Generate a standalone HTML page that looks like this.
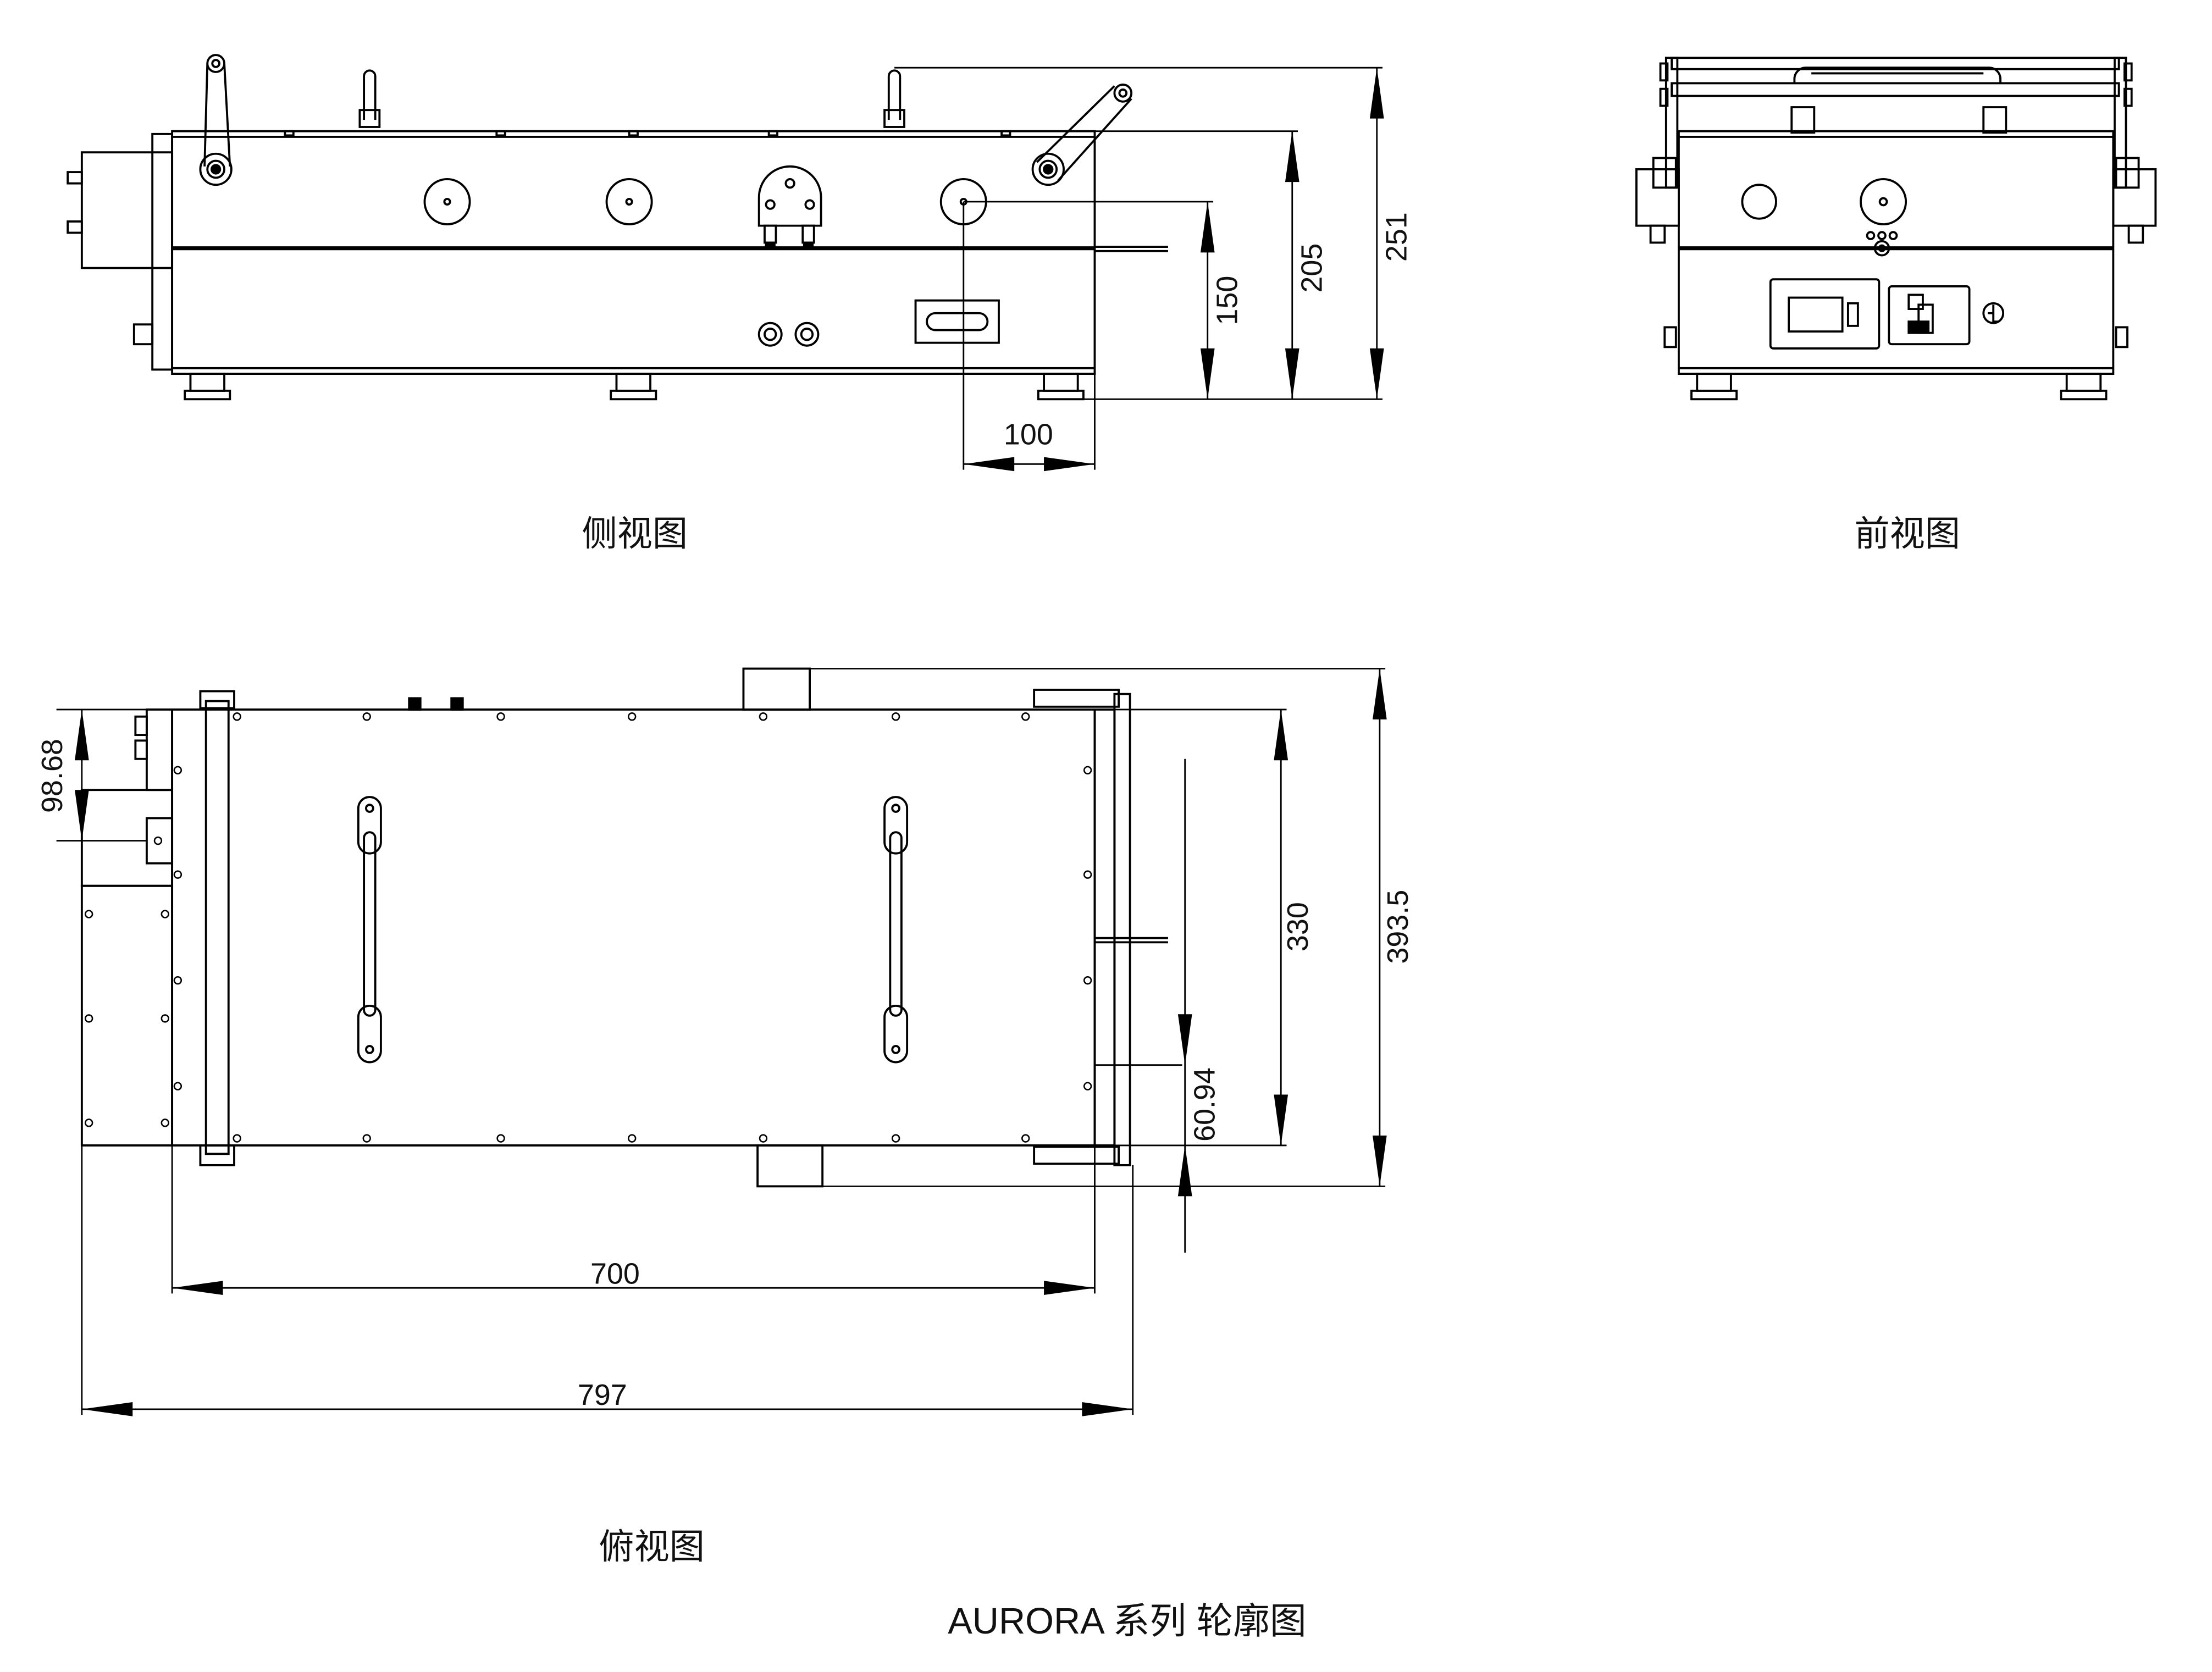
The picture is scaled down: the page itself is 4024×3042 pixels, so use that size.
<!DOCTYPE html>
<html><head><meta charset="utf-8"><style>
html,body{margin:0;padding:0;background:#fff;}
svg{display:block;}
text{font-family:"Liberation Sans","Noto Sans CJK SC",sans-serif;fill:#111;}
</style></head><body>
<svg width="4024" height="3042" viewBox="0 0 1568 1185.3" preserveAspectRatio="none" xmlns="http://www.w3.org/2000/svg">
<rect width="1600" height="1200" fill="#fff"/>
<g fill="none" stroke="#000" stroke-width="1.5">
<!-- ===== SIDE VIEW ===== -->
<rect x="122" y="93" width="654" height="172"/>
<line x1="122" y1="97" x2="776" y2="97"/>
<line x1="122" y1="176" x2="776" y2="176" stroke-width="2.8"/>
<line x1="122" y1="261" x2="776" y2="261"/>
<rect x="108" y="95" width="14" height="167"/>
<rect x="58" y="108" width="64" height="82"/>
<rect x="48" y="122" width="10" height="8"/><rect x="48" y="157" width="10" height="8"/>
<rect x="95" y="230" width="13" height="14"/>
<rect x="135" y="265" width="24" height="12"/><rect x="131" y="277" width="32" height="6"/>
<rect x="437" y="265" width="24" height="12"/><rect x="433" y="277" width="32" height="6"/>
<rect x="740" y="265" width="24" height="12"/><rect x="736" y="277" width="32" height="6"/>
<rect x="202" y="93" width="6" height="3"/><rect x="352" y="93" width="6" height="3"/><rect x="446" y="93" width="6" height="3"/><rect x="545" y="93" width="6" height="3"/><rect x="710" y="93" width="6" height="3"/>
<path d="M258 85 V54 a4 4 0 0 1 8 0 V85"/><rect x="255" y="78" width="14" height="12"/>
<path d="M630 85 V54 a4 4 0 0 1 8 0 V85"/><rect x="627" y="78" width="14" height="12"/>
<path d="M147 45 L145 118 M159 45 L163 118"/><circle cx="153" cy="45" r="6"/><circle cx="153" cy="45" r="2.5"/>
<circle cx="153" cy="120" r="11"/><circle cx="153" cy="120" r="6"/><circle cx="153" cy="120" r="3" fill="#000"/>
<path d="M790 61 L735 115 M802 70 L750 128"/><circle cx="796" cy="66" r="6"/><circle cx="796" cy="66" r="2.5"/>
<circle cx="743" cy="120" r="11"/><circle cx="743" cy="120" r="6"/><circle cx="743" cy="120" r="3" fill="#000"/>
<circle cx="317" cy="143" r="16"/><circle cx="317" cy="143" r="2"/>
<circle cx="446" cy="143" r="16"/><circle cx="446" cy="143" r="2"/>
<circle cx="683" cy="143" r="16"/><circle cx="683" cy="143" r="2"/>
<path d="M538 160 V140 a22 22 0 0 1 44 0 V160 Z"/><circle cx="560" cy="130" r="3"/><circle cx="546" cy="145" r="3"/><circle cx="574" cy="145" r="3"/>
<rect x="542" y="160" width="8" height="12"/><rect x="569" y="160" width="8" height="12"/>
<rect x="543" y="172" width="6" height="3" fill="#000"/><rect x="570" y="172" width="6" height="3" fill="#000"/>
<circle cx="546" cy="237" r="8"/><circle cx="546" cy="237" r="4"/><circle cx="572" cy="237" r="8"/><circle cx="572" cy="237" r="4"/>
<rect x="649" y="213" width="59" height="30"/><rect x="657" y="222" width="43" height="12" rx="6"/>
<line x1="776" y1="175" x2="828" y2="175"/><line x1="776" y1="178" x2="828" y2="178"/>
<g stroke-width="1.1">
<line x1="634" y1="48" x2="980" y2="48"/>
<line x1="776" y1="93" x2="920" y2="93"/>
<line x1="683" y1="143" x2="860" y2="143"/>
<line x1="768" y1="283" x2="980" y2="283"/>
<line x1="976" y1="48" x2="976" y2="283"/>
<line x1="916" y1="93" x2="916" y2="283"/>
<line x1="856" y1="143" x2="856" y2="283"/>
<line x1="683" y1="143" x2="683" y2="333"/>
<line x1="776" y1="265" x2="776" y2="333"/>
<line x1="683" y1="329" x2="776" y2="329"/>
</g>

<!-- ===== FRONT VIEW ===== -->
<rect x="1190" y="93" width="308" height="172"/>
<line x1="1190" y1="97" x2="1498" y2="97"/>
<line x1="1190" y1="176" x2="1498" y2="176" stroke-width="2.8"/>
<line x1="1190" y1="261" x2="1498" y2="261"/>
<rect x="1185" y="41" width="317" height="8"/><rect x="1185" y="59" width="317" height="9"/>
<rect x="1181" y="41" width="8" height="92"/><rect x="1499" y="41" width="8" height="92"/>
<rect x="1177" y="45" width="5" height="12"/><rect x="1177" y="63" width="5" height="12"/><rect x="1506" y="45" width="5" height="12"/><rect x="1506" y="63" width="5" height="12"/>
<path d="M1272 59 V56 a8 8 0 0 1 8 -8 H1410 a8 8 0 0 1 8 8 V59"/><line x1="1284" y1="52" x2="1406" y2="52"/>
<rect x="1270" y="76" width="16" height="18"/><rect x="1406" y="76" width="16" height="18"/>
<rect x="1172" y="112" width="16" height="21"/><rect x="1500" y="112" width="16" height="21"/>
<rect x="1160" y="120" width="30" height="40"/><rect x="1498" y="120" width="30" height="40"/>
<rect x="1170" y="160" width="10" height="12"/><rect x="1509" y="160" width="10" height="12"/>
<circle cx="1247" cy="143" r="12"/>
<circle cx="1335" cy="143" r="16"/><circle cx="1335" cy="143" r="2.5"/>
<circle cx="1326" cy="167" r="2.5"/><circle cx="1334" cy="167" r="2.5"/><circle cx="1342" cy="167" r="2.5"/>
<circle cx="1334" cy="176" r="5"/><circle cx="1334" cy="176" r="2"/>
<rect x="1255" y="198" width="77" height="49" rx="2"/>
<rect x="1268" y="211" width="38" height="24"/><rect x="1310" y="215" width="7" height="16"/>
<rect x="1339" y="203" width="57" height="41" rx="2"/>
<rect x="1353" y="209" width="10" height="10"/><rect x="1360" y="216" width="10" height="20"/><rect x="1353" y="228" width="14" height="8" fill="#000"/>
<circle cx="1413" cy="222" r="7"/><path d="M1409 222 H1413 V216 M1413 222 V228 H1417"/>
<rect x="1180" y="232" width="8" height="14"/><rect x="1500" y="232" width="8" height="14"/>
<rect x="1203" y="265" width="24" height="12"/><rect x="1199" y="277" width="32" height="6"/>
<rect x="1465" y="265" width="24" height="12"/><rect x="1461" y="277" width="32" height="6"/>

<!-- ===== TOP VIEW ===== -->
<rect x="122" y="503" width="654" height="309"/>
<rect x="146" y="497" width="16" height="321"/>
<rect x="142" y="490" width="24" height="12"/><rect x="142" y="812" width="24" height="14"/>
<rect x="776" y="503" width="14" height="309"/>
<rect x="790" y="492" width="11" height="334"/>
<rect x="733" y="489" width="60" height="12"/><rect x="733" y="813" width="60" height="12"/>
<rect x="527" y="474" width="47" height="29"/><rect x="537" y="812" width="46" height="29"/>
<rect x="104" y="503" width="18" height="57"/>
<rect x="58" y="560" width="64" height="68"/><rect x="104" y="580" width="18" height="32"/>
<rect x="58" y="628" width="64" height="184"/>
<rect x="96" y="508" width="8" height="13"/><rect x="96" y="525" width="8" height="13"/>
<rect x="290" y="495" width="8" height="8" fill="#000"/><rect x="320" y="495" width="8" height="8" fill="#000"/>
<line x1="776" y1="665" x2="828" y2="665"/><line x1="776" y1="668" x2="828" y2="668"/>
<g stroke-width="1">
<circle cx="168" cy="508" r="2.5"/><circle cx="260" cy="508" r="2.5"/><circle cx="355" cy="508" r="2.5"/><circle cx="448" cy="508" r="2.5"/><circle cx="541" cy="508" r="2.5"/><circle cx="635" cy="508" r="2.5"/><circle cx="727" cy="508" r="2.5"/>
<circle cx="168" cy="807" r="2.5"/><circle cx="260" cy="807" r="2.5"/><circle cx="355" cy="807" r="2.5"/><circle cx="448" cy="807" r="2.5"/><circle cx="541" cy="807" r="2.5"/><circle cx="635" cy="807" r="2.5"/><circle cx="727" cy="807" r="2.5"/>
<circle cx="126" cy="546" r="2.5"/><circle cx="126" cy="620" r="2.5"/><circle cx="126" cy="695" r="2.5"/><circle cx="126" cy="770" r="2.5"/>
<circle cx="771" cy="546" r="2.5"/><circle cx="771" cy="620" r="2.5"/><circle cx="771" cy="695" r="2.5"/><circle cx="771" cy="770" r="2.5"/>
<circle cx="63" cy="648" r="2.5"/><circle cx="63" cy="722" r="2.5"/><circle cx="63" cy="796" r="2.5"/>
<circle cx="117" cy="648" r="2.5"/><circle cx="117" cy="722" r="2.5"/><circle cx="117" cy="796" r="2.5"/>
<circle cx="112" cy="596" r="2.5"/>
</g>
<rect x="254" y="565" width="16" height="40" rx="8"/><circle cx="262" cy="573" r="2.5"/>
<rect x="254" y="713" width="16" height="40" rx="8"/><circle cx="262" cy="744" r="2.5"/>
<rect x="258" y="590" width="8" height="130" rx="4"/>
<rect x="627" y="565" width="16" height="40" rx="8"/><circle cx="635" cy="573" r="2.5"/>
<rect x="627" y="713" width="16" height="40" rx="8"/><circle cx="635" cy="744" r="2.5"/>
<rect x="631" y="590" width="8" height="130" rx="4"/>
<g stroke-width="1.1">
<line x1="574" y1="474" x2="982" y2="474"/><line x1="583" y1="841" x2="982" y2="841"/>
<line x1="978" y1="474" x2="978" y2="841"/>
<line x1="776" y1="503" x2="912" y2="503"/><line x1="776" y1="812" x2="912" y2="812"/>
<line x1="908" y1="503" x2="908" y2="812"/>
<line x1="840" y1="538" x2="840" y2="888"/><line x1="776" y1="755" x2="838" y2="755"/>
<line x1="40" y1="503" x2="122" y2="503"/><line x1="40" y1="596" x2="104" y2="596"/>
<line x1="58" y1="503" x2="58" y2="628"/>
<line x1="122" y1="812" x2="122" y2="917"/><line x1="776" y1="812" x2="776" y2="917"/>
<line x1="122" y1="913" x2="776" y2="913"/>
<line x1="58" y1="812" x2="58" y2="1003"/><line x1="803" y1="826" x2="803" y2="1003"/>
<line x1="58" y1="999" x2="803" y2="999"/>
</g>
</g>
<g fill="#000">
<polygon points="976,48 971,84 981,84"/><polygon points="976,283 971,247 981,247"/>
<polygon points="916,93 911,129 921,129"/><polygon points="916,283 911,247 921,247"/>
<polygon points="856,143 851,179 861,179"/><polygon points="856,283 851,247 861,247"/>
<polygon points="683,329 719,324 719,334"/><polygon points="776,329 740,324 740,334"/>
<polygon points="978,474 973,510 983,510"/><polygon points="978,841 973,805 983,805"/>
<polygon points="908,503 903,539 913,539"/><polygon points="908,812 903,776 913,776"/>
<polygon points="840,755 835,719 845,719"/><polygon points="840,812 835,848 845,848"/>
<polygon points="58,503 53,539 63,539"/><polygon points="58,596 53,560 63,560"/>
<polygon points="122,913 158,908 158,918"/><polygon points="776,913 740,908 740,918"/>
<polygon points="58,999 94,994 94,1004"/><polygon points="803,999 767,994 767,1004"/>
</g>
<g font-size="21">
<text x="729" y="315" text-anchor="middle">100</text>
<text transform="translate(997,168) rotate(-90)" text-anchor="middle">251</text>
<text transform="translate(937,190) rotate(-90)" text-anchor="middle">205</text>
<text transform="translate(877,213) rotate(-90)" text-anchor="middle">150</text>
<text transform="translate(927,657) rotate(-90)" text-anchor="middle">330</text>
<text transform="translate(998,657) rotate(-90)" text-anchor="middle">393.5</text>
<text transform="translate(861,783) rotate(-90)" text-anchor="middle">60.94</text>
<text transform="translate(44,550) rotate(-90)" text-anchor="middle">98.68</text>
<text x="436" y="910" text-anchor="middle">700</text>
<text x="427" y="996" text-anchor="middle">797</text>
</g>
<g font-size="25">
<text x="450" y="387" text-anchor="middle">侧视图</text>
<text x="1352" y="387" text-anchor="middle">前视图</text>
<text x="462" y="1105" text-anchor="middle">俯视图</text>
<text x="799" y="1158" text-anchor="middle" font-size="26">AURORA 系列 轮廓图</text>
</g>
</svg>
</body></html>
